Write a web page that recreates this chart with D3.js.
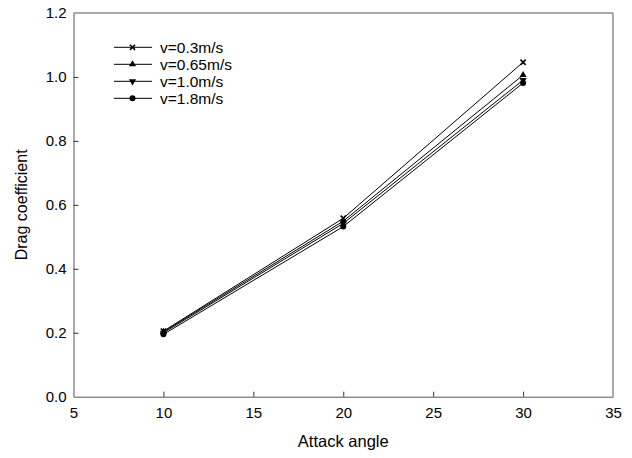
<!DOCTYPE html>
<html><head><meta charset="utf-8">
<script src="https://cdn.jsdelivr.net/npm/d3@7"></script>
<style>body{margin:0;background:#fff}svg{display:block}text{font-family:"Liberation Sans",Arial,sans-serif}</style>
</head><body><svg id="c" width="632" height="458"></svg>
<script>
const angles = [10, 20, 30];
const seriesNames = ["v=0.3m/s", "v=0.65m/s", "v=1.0m/s", "v=1.8m/s"];
const v03 = [0.205, 0.558, 1.046];
const v065 = [0.203, 0.549, 1.006];
const v10 = [0.200, 0.542, 0.990];
const v18 = [0.195, 0.532, 0.981];
const xTicks = [5, 10, 15, 20, 25, 30, 35];
const yTicks = [0.0, 0.2, 0.4, 0.6, 0.8, 1.0, 1.2];
const seriesValues = [v03, v065, v10, v18];
const markerTypes = ["cross", "up", "down", "circle"];

const svg = d3.select("#c");
const L = 73.5, R = 613, T = 13, B = 396.7;
const x = d3.scaleLinear().domain([5, 35]).range([L, R]);
const y = d3.scaleLinear().domain([0, 1.2]).range([B, T]);
const axisColor = "#555";

svg.append("line").attr("x1", L).attr("x2", R).attr("y1", T).attr("y2", T).attr("stroke", axisColor);
svg.append("line").attr("x1", R).attr("x2", R).attr("y1", T).attr("y2", B).attr("stroke", axisColor);

const xa = svg.append("g").attr("transform", `translate(0,${B})`)
  .call(d3.axisBottom(x).tickValues(xTicks).tickSizeInner(-5).tickSizeOuter(0).tickPadding(11).tickFormat(d3.format("d")));
const ya = svg.append("g").attr("transform", `translate(${L},0)`)
  .call(d3.axisLeft(y).tickValues(yTicks).tickSizeInner(-5).tickSizeOuter(0).tickPadding(7).tickFormat(d3.format(".1f")));
[xa, ya].forEach(a => {
  a.select(".domain").attr("stroke", axisColor);
  a.selectAll(".tick line").attr("stroke", "#333");
  a.selectAll("text").attr("font-size", 15).attr("fill", "#000").attr("font-family", '"Liberation Sans",Arial,sans-serif');
});
xa.selectAll(".tick").filter(d => d === 5 || d === 35).select("line").remove();
ya.selectAll(".tick").filter(d => d === 0 || d === 1.2).select("line").remove();

svg.append("text").attr("x", (L + R) / 2).attr("y", 447).attr("text-anchor", "middle").attr("font-size", 16.5).text("Attack angle");
svg.append("text").attr("transform", `translate(27,${(T + B) / 2}) rotate(-90)`).attr("text-anchor", "middle").attr("font-size", 16).text("Drag coefficient");

function marker(g, type, cx, cy) {
  if (type === "cross") {
    const s = 2.6;
    g.append("path").attr("d", `M${cx - s},${cy - s}L${cx + s},${cy + s}M${cx - s},${cy + s}L${cx + s},${cy - s}`).attr("stroke", "#000").attr("stroke-width", 1.6);
  } else if (type === "circle") {
    g.append("circle").attr("cx", cx).attr("cy", cy).attr("r", 3).attr("fill", "#000");
  } else {
    const sym = d3.symbol().type(d3.symbolTriangle).size(22);
    g.append("path").attr("d", sym()).attr("fill", "#000")
      .attr("transform", `translate(${cx},${cy}) rotate(${type === "down" ? 180 : 0})`);
  }
}

const line = d3.line().x((d, i) => x(angles[i])).y(d => y(d));
seriesValues.forEach((vals, k) => {
  const g = svg.append("g");
  g.append("path").attr("d", line(vals)).attr("fill", "none").attr("stroke", "#000").attr("stroke-width", 1);
  vals.forEach((v, i) => marker(g, markerTypes[k], x(angles[i]), y(v)));
});

seriesNames.forEach((name, k) => {
  const ly = 47.3 + k * 17;
  const g = svg.append("g");
  g.append("line").attr("x1", 114).attr("x2", 152).attr("y1", ly).attr("y2", ly).attr("stroke", "#000");
  marker(g, markerTypes[k], 132.5, ly);
  g.append("text").attr("x", 160).attr("y", ly + 5.3).attr("font-size", 15.5).text(name);
});
</script></body></html>
